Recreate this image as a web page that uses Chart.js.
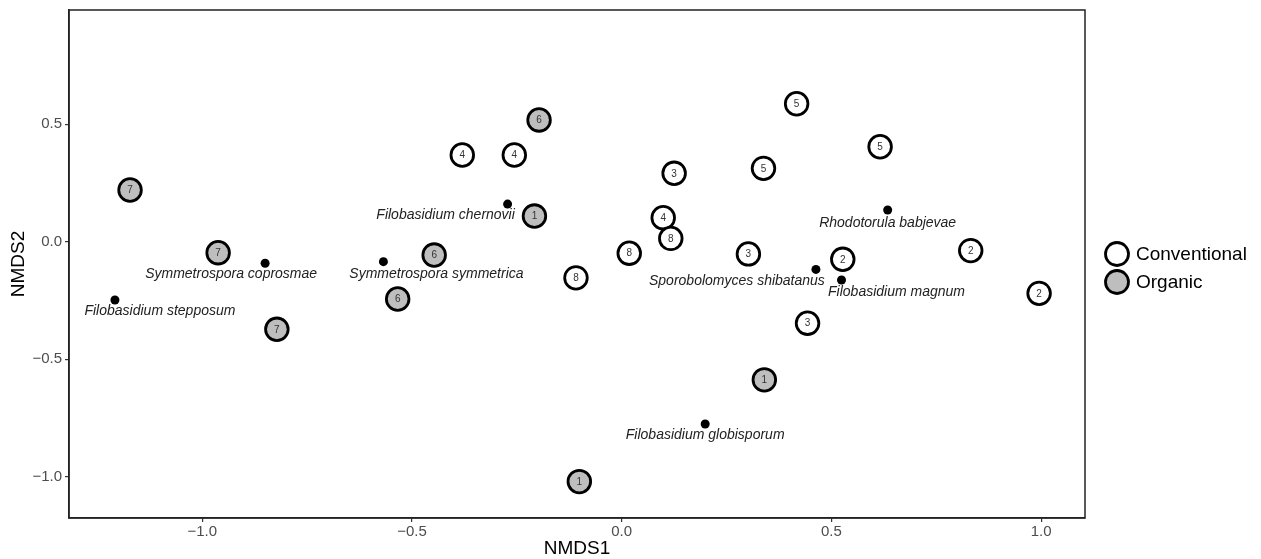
<!DOCTYPE html>
<html>
<head>
<meta charset="utf-8">
<script src="https://cdn.jsdelivr.net/npm/chart.js@4.4.0/dist/chart.umd.min.js"></script>
<style>
  html, body { margin: 0; padding: 0; background: #fff; }
  canvas { display: block; }
</style>
</head>
<body>
<canvas id="grafico" width="1261" height="559"></canvas>
<script>
// sítios convencionais (NMDS1, NMDS2, número da parcela)
const convX = [-0.380, -0.256, 0.417, 0.125, 0.338, 0.616, 0.099, 0.117, 0.018, 0.302, -0.109, 0.527, 0.832, 0.995, 0.443];
const convY = [0.369, 0.369, 0.587, 0.291, 0.312, 0.404, 0.102, 0.014, -0.049, -0.052, -0.154, -0.075, -0.038, -0.220, -0.347];
const convLab = ["4", "4", "5", "3", "5", "5", "4", "8", "8", "3", "8", "2", "2", "2", "3"];

// sítios orgânicos
const orgX = [-1.172, -0.962, -0.822, -0.534, -0.447, -0.197, -0.208, 0.340, -0.101];
const orgY = [0.220, -0.047, -0.373, -0.244, -0.057, 0.518, 0.109, -0.588, -1.021];
const orgLab = ["7", "7", "7", "6", "6", "6", "1", "1", "1"];

// espécies
const speciesNames = [
  "Filobasidium chernovii", "Symmetrospora coprosmae", "Symmetrospora symmetrica",
  "Filobasidium stepposum", "Sporobolomyces shibatanus", "Filobasidium magnum",
  "Rhodotorula babjevae", "Filobasidium globisporum"
];
const speciesX = [-0.272, -0.850, -0.568, -1.208, 0.463, 0.524, 0.634, 0.199];
const speciesY = [0.160, -0.092, -0.085, -0.248, -0.118, -0.163, 0.135, -0.776];

const xTicks = [-1.0, -0.5, 0.0, 0.5, 1.0];
const yTicks = [-1.0, -0.5, 0.0, 0.5];

// deslocamento dos rótulos em px (tipo ggrepel)
const labelOffsets = [[-62, 11], [-34, 11], [53, 12], [45, 11], [-79, 12], [55, 12], [0, 13], [0, 11]];

const FONT = "'Liberation Sans', Arial, sans-serif";
const GREY = "#bebebe";

const toPts = (xs, ys) => xs.map((x, i) => ({ x, y: ys[i] }));
const fmt = (v) => v.toFixed(1).replace("-", "\u2212");

const extras = {
  id: "extras",
  afterDatasetsDraw(chart) {
    const { ctx, chartArea: a } = chart;
    ctx.save();
    // números dentro dos círculos
    ctx.font = `10px ${FONT}`;
    ctx.fillStyle = "#333";
    ctx.textAlign = "center";
    ctx.textBaseline = "middle";
    [[0, convLab], [1, orgLab]].forEach(([di, labs]) => {
      chart.getDatasetMeta(di).data.forEach((pt, i) => {
        ctx.fillText(labs[i], pt.x, pt.y + 0.5);
      });
    });
    // nomes das espécies
    ctx.font = `italic 14px ${FONT}`;
    ctx.fillStyle = "#222";
    chart.getDatasetMeta(2).data.forEach((pt, i) => {
      const [dx, dy] = labelOffsets[i];
      ctx.fillText(speciesNames[i], pt.x + dx, pt.y + dy);
    });
    // moldura do painel
    ctx.strokeStyle = "#222";
    ctx.lineWidth = 1.5;
    ctx.strokeRect(a.left, a.top, a.right - a.left, a.bottom - a.top);

    // legenda
    const items = [["Conventional", "#fff"], ["Organic", GREY]];
    ctx.font = `19px ${FONT}`;
    ctx.textAlign = "left";
    items.forEach(([txt, fill], i) => {
      const cy = 254 + i * 28;
      ctx.beginPath();
      ctx.arc(1117, cy, 11.5, 0, Math.PI * 2);
      ctx.fillStyle = fill;
      ctx.fill();
      ctx.lineWidth = 2.8;
      ctx.strokeStyle = "#000";
      ctx.stroke();
      ctx.fillStyle = "#000";
      ctx.fillText(txt, 1136, cy + 1);
    });
    ctx.restore();
  }
};

const siteStyle = {
  pointRadius: 11.3,
  pointHoverRadius: 11.3,
  pointBorderWidth: 2.8,
  pointBorderColor: "#000",
  showLine: false
};

const noPad = (s) => { s.paddingTop = 0; s.paddingBottom = 0; s.paddingLeft = 0; s.paddingRight = 0; };

new Chart(document.getElementById("grafico").getContext("2d"), {
  type: "scatter",
  data: {
    datasets: [
      { label: "Conventional", data: toPts(convX, convY), pointBackgroundColor: "#fff", ...siteStyle },
      { label: "Organic", data: toPts(orgX, orgY), pointBackgroundColor: GREY, ...siteStyle },
      {
        label: "Species", data: toPts(speciesX, speciesY),
        pointRadius: 4.5, pointBackgroundColor: "#000", pointBorderWidth: 0, showLine: false
      }
    ]
  },
  options: {
    responsive: false,
    animation: false,
    devicePixelRatio: 1,
    layout: { autoPadding: false, padding: { top: 10, right: 176, left: 0, bottom: 0 } },
    plugins: { legend: { display: false }, tooltip: { enabled: false } },
    scales: {
      x: {
        type: "linear",
        min: -1.3175,
        max: 1.1044,
        afterFit: (s) => { s.height = 41; noPad(s); },
        afterBuildTicks: (s) => { s.ticks = xTicks.map((v) => ({ value: v })); },
        grid: { drawOnChartArea: false, tickLength: 4, color: "#333", lineWidth: 1.2 },
        border: { color: "#222", width: 1.5 },
        ticks: { callback: fmt, color: "#4d4d4d", font: { family: FONT, size: 15 }, padding: 1, maxRotation: 0 },
        title: { display: true, text: "NMDS1", color: "#000", font: { family: FONT, size: 19 }, padding: { top: 0, bottom: -1 } }
      },
      y: {
        type: "linear",
        min: -1.176,
        max: 0.986,
        afterFit: (s) => { s.width = 69; noPad(s); },
        afterBuildTicks: (s) => { s.ticks = yTicks.map((v) => ({ value: v })); },
        grid: { drawOnChartArea: false, tickLength: 4, color: "#333", lineWidth: 1.2 },
        border: { color: "#222", width: 1.5 },
        ticks: { callback: fmt, color: "#4d4d4d", font: { family: FONT, size: 15 }, padding: 3 },
        title: { display: true, text: "NMDS2", color: "#000", font: { family: FONT, size: 19 }, padding: { top: 7, bottom: 0 } }
      }
    }
  },
  plugins: [extras]
});
</script>
</body>
</html>
